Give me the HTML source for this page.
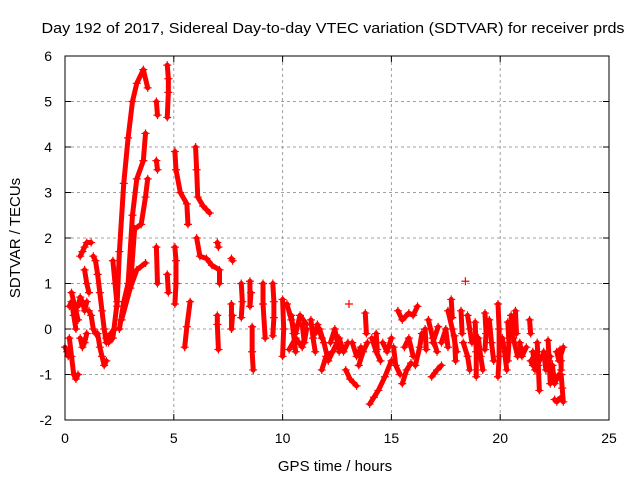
<!DOCTYPE html>
<html><head><meta charset="utf-8"><style>
html,body{margin:0;padding:0;background:#fff;}
svg{display:block;font-family:"Liberation Sans",sans-serif;}
</style></head><body>
<svg id="chart" width="640" height="480" viewBox="0 0 640 480" xmlns="http://www.w3.org/2000/svg">
<text x="333" y="33" font-size="15" text-anchor="middle" textLength="583" lengthAdjust="spacingAndGlyphs">Day 192 of 2017, Sidereal Day-to-day VTEC variation (SDTVAR) for receiver prds</text>
<g id="grid"></g>
<g id="ticks"></g>
<g id="marks"></g>
<rect x="65" y="56" width="544" height="364" fill="none" stroke="#000" stroke-width="1"/>
<text x="335" y="471" font-size="15" text-anchor="middle">GPS time / hours</text>
<text transform="translate(20,238) rotate(-90)" font-size="15" text-anchor="middle">SDTVAR / TECUs</text>
</svg>
<script>
const xTicks=[0,5,10,15,20,25];
const yTicks=[-2,-1,0,1,2,3,4,5,6];
const arcT=[
[0.0,0.1,0.15],
[0.2,0.3,0.4,0.5,0.6],
[0.2,0.3,0.4,0.5],
[0.7,0.8,0.9,1.0,1.2],
[0.6,0.7,0.8,0.9,1.0],
[0.7,0.8,0.9,1.0],
[1.3,1.4,1.5,1.6,1.7,1.8,1.9],
[1.1,1.2,1.3,1.4],
[1.5,1.6,1.7,1.8,1.9],
[2.0,2.2,2.4,2.5,2.7,2.9,3.1,3.3,3.6,3.8],
[2.5,2.7,2.9,3.1,3.3,3.6,3.7],
[3.0,3.2,3.5,3.7,3.8],
[2.6,3.0,3.3,3.7],
[4.2,4.25],[4.2,4.25],[4.2,4.25],
[4.7,4.75,4.75,4.7],
[4.7,4.75],
[5.05,5.1,5.3,5.6,5.65],
[6.0,6.05,6.1,6.35,6.65],
[5.05,5.1,5.1,5.05],
[5.5,5.6,5.75],
[6.05,6.2,6.5,6.75,7.1,7.1],
[7.0,7.05],[7.65,7.7],
[7.0,7.0,7.05],
[7.65,7.65,7.7],
[8.1,8.15,8.1],
[8.5,8.5,8.55],
[8.6,8.6,8.65],
[9.1,9.1,9.2],
[9.55,9.6,9.6,9.55],
[10.0,10.05,10.0],
[10.2,10.4,10.6,10.8,11.1],
[10.3,10.6,10.9,11.1],
[11.7,11.9,12.1,12.5],
[11.8,12.0,12.3],
[13.05],
[12.9,13.1,13.4],
[13.8,13.85],
[14.0,14.2,14.4,14.7,15.0],
[14.3,14.35],
[15.3,15.5,15.8,16.0,16.2],
[15.5,15.7,15.9],
[16.55,16.6],
[16.85,17.1,17.3],
[17.15,16.9],
[17.75,17.8],
[18.4],
[17.9,17.95],
[18.2,18.25],
[18.85,18.9,18.9],
[19.3,19.35,19.3],
[19.9,19.95,19.95,19.9],
[20.35,20.4,20.35],
[20.7,20.75],
[21.35,21.4],
[21.4,21.5],
[21.7,21.75,21.8],
[22.2,22.25,22.3],
[22.5,22.6,22.8],
[22.75,22.8,22.8],
[10.4,10.5,10.6],[10.9,11.0,11.1],[11.3,11.4,11.5],[11.5,11.6,11.8],
[12.2,12.4,12.6],[12.6,12.8,13.0],[13.2,13.4,13.6],[13.5,13.7,13.9],
[14.1,14.3,14.5],[14.6,14.8,15.0],[15.1,15.2,15.4],[15.6,15.8,16.0],
[16.1,16.3,16.4],[16.7,16.9,17.1],[17.3,17.5,17.6],[17.6,17.8,18.0],
[18.3,18.5,18.6],[18.5,18.6,18.7],[19.0,19.1,19.2],[19.5,19.6,19.7],
[20.1,20.2,20.3],[20.5,20.6,20.8],[20.9,21.0,21.2],[21.5,21.6,21.9],
[22.0,22.1,22.3],[22.4,22.5,22.7],[22.6,22.7,22.9],[22.8,22.85,22.9],
[1.9,2.1,2.3],[0.9,1.0,1.1],[2.2,2.3,2.4],[0.3,0.5,0.6]
];
const arcV=[
[-0.4,-0.5,-0.6],
[-0.2,-0.6,-1.0,-1.1,-1.0],
[0.5,0.6,0.3,0.0],
[1.6,1.7,1.8,1.9,1.9],
[0.5,0.7,0.6,0.4,0.6],
[-0.2,-0.4,-0.3,-0.1],
[1.6,1.5,1.2,0.8,0.4,0.0,-0.3],
[0.4,0.3,0.0,-0.1],
[-0.1,-0.4,-0.6,-0.8,-0.7],
[-0.3,-0.2,0.6,1.7,3.2,4.2,5.0,5.4,5.7,5.3],
[0.0,0.6,1.0,2.5,3.3,3.7,4.3],
[0.9,2.2,2.3,2.9,3.3],
[0.2,0.9,1.3,1.45],
[5.0,4.7],[3.7,3.5],[1.8,1.0],
[5.8,5.5,5.2,4.65],
[1.2,0.8],
[3.9,3.5,3.0,2.75,2.3],
[4.0,3.5,2.9,2.7,2.55],
[1.8,1.5,1.0,0.55],
[-0.4,0.05,0.6],
[2.0,1.6,1.55,1.4,1.3,1.0],
[1.9,1.8],[1.55,1.5],
[0.3,0.1,-0.45],
[0.55,0.0,0.3],
[1.0,0.6,0.25],
[1.05,0.5,0.8],
[0.05,-0.5,-0.9],
[1.0,0.55,-0.2],
[1.0,0.6,0.25,-0.15],
[0.65,0.0,-0.6],
[0.55,0.2,-0.1,0.3,0.1],
[-0.45,-0.2,-0.4,0.0],
[0.0,-0.3,-0.7,-0.3],
[-0.9,-0.6,-0.5],
[0.55],
[-0.9,-1.1,-1.25],
[0.35,-0.1],
[-1.65,-1.5,-1.35,-1.05,-0.7],
[-0.1,-0.45],
[0.4,0.2,0.35,0.3,0.5],
[-1.2,-0.9,-0.75],
[0.0,-0.45],
[-1.05,-0.9,-0.8],
[0.05,-0.3],
[0.65,0.25],
[1.05],
[-0.15,-0.7],
[0.4,-0.1],
[0.15,-0.5,-1.05],
[0.35,-0.1,-0.45],
[0.55,0.0,-0.6,-1.05],
[0.15,-0.3,-0.7],
[0.4,-0.1],
[0.2,-0.1],
[-0.7,-0.8],
[-0.3,-0.8,-1.35],
[-0.25,-0.7,-1.2],
[-1.55,-1.6,-1.5],
[-0.45,-0.7,-0.9],
[0.3,-0.1,-0.5],[0.1,-0.3,0.0],[0.2,-0.2,-0.5],[-0.1,0.1,-0.2],
[-0.3,0.0,-0.5],[-0.2,-0.5,-0.3],[-0.3,-0.6,-0.4],[-0.8,-0.5,-0.3],
[-0.2,-0.5,-0.7],[-0.3,-0.5,-0.2],[-0.4,-0.8,-1.0],[-0.4,-0.2,-0.6],
[-0.8,-0.4,-0.1],[0.2,-0.2,-0.5],[-0.3,0.0,-0.4],[0.4,0.0,-0.5],
[-0.3,-0.6,-0.9],[0.3,0.0,-0.3],[-0.2,-0.6,-0.9],[0.2,-0.3,-0.7],
[-0.2,-0.5,-0.9],[0.3,-0.2,-0.6],[-0.3,-0.6,-0.4],[-0.5,-0.9,-0.6],
[-0.5,-0.9,-0.6],[-0.8,-1.2,-1.0],[-0.5,-0.7,-0.4],[-1.0,-1.3,-1.6],
[-0.2,-0.1,0.0],[1.3,1.0,0.8],[1.5,1.0,0.5],[0.8,0.4,0.2]
];
const NS='http://www.w3.org/2000/svg';
const X0=65,X1=609,Y0=420,Y1=56;
function xs(t){return X0+(t-0)/(25-0)*(X1-X0);}
function ys(v){return Y0-(v-(-2))/(6-(-2))*(Y0-Y1);}
const grid=document.getElementById('grid'),ticks=document.getElementById('ticks'),marks=document.getElementById('marks');
function mk(tag,attrs,parent){const e=document.createElementNS(NS,tag);for(const k in attrs)e.setAttribute(k,attrs[k]);parent.appendChild(e);return e;}
xTicks.forEach(t=>{
  const x=xs(t);
  if(t>0&&t<25){const g=mk('line',{x1:x,x2:x,y1:Y1,y2:Y0,stroke:'#a0a0a0','stroke-dasharray':'3,3'},grid);
    
    }
  const a=mk('line',{x1:x,x2:x,y1:Y0,y2:Y0-6,stroke:'#000'},ticks);
  
  
  const b=mk('line',{x1:x,x2:x,y1:Y1,y2:Y1+6,stroke:'#000'},ticks);
  
  
  const l=mk('text',{x:x,y:443,'font-size':14,'text-anchor':'middle'},ticks);
  l.textContent=t;
  
  
});
yTicks.forEach(v=>{
  const y=ys(v);
  if(v>-2&&v<6){const g=mk('line',{x1:X0,x2:X1,y1:y,y2:y,stroke:'#a0a0a0','stroke-dasharray':'3,3'},grid);
    
    }
  const a=mk('line',{x1:X0,x2:X0+6,y1:y,y2:y,stroke:'#000'},ticks);
  
  
  const b=mk('line',{x1:X1,x2:X1-6,y1:y,y2:y,stroke:'#000'},ticks);
  
  
  const l=mk('text',{x:52,y:y+5,'font-size':14,'text-anchor':'end'},ticks);
  l.textContent=v;
  
  
});
arcT.forEach((ts,i)=>{
  const vs=arcV[i];
  if(ts.length>1){
    const pl=mk('polyline',{points:ts.map((t,j)=>xs(t)+','+ys(vs[j])).join(' '),fill:'none',stroke:'#ff0000','stroke-width':5,'stroke-linejoin':'round','stroke-linecap':'round'},marks);
    
    
  }
  ts.forEach((t,j)=>{
    const x=xs(t),y=ys(vs[j]);
    const p=mk('path',{d:`M${x-4},${y}H${x+4}M${x},${y-4}V${y+4}`,stroke:'#ff0000','stroke-width':1.2},marks);
    
    
  });
});
</script>
</body></html>
